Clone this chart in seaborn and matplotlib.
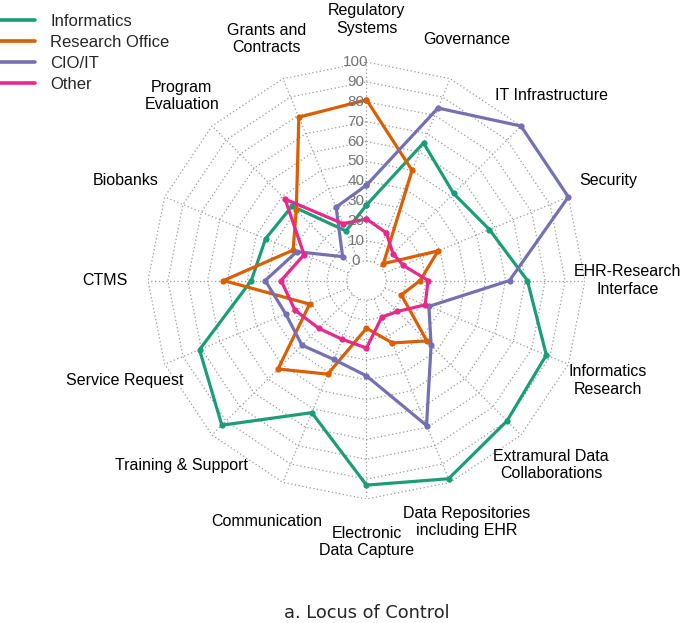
import numpy as np
import pandas as pd
import matplotlib
matplotlib.use("Agg")
import matplotlib.pyplot as plt
from matplotlib.lines import Line2D
import seaborn as sns

# Data (percent, 0-100)
categories = [
    "Regulatory\nSystems", "Governance", "IT Infrastructure", "Security",
    "EHR-Research\nInterface", "Informatics\nResearch",
    "Extramural Data\nCollaborations", "Data Repositories\nincluding EHR",
    "Electronic\nData Capture", "Communication", "Training & Support",
    "Service Request", "CTMS", "Biobanks", "Program\nEvaluation",
    "Grants and\nContracts",
]
groups = ["Informatics", "Research Office", "CIO/IT", "Other"]
informatics = [28, 65, 52, 57, 71, 88, 90, 98, 93, 62, 93, 81, 48, 45, 43, 17]
research_office = [81, 50, 2, 29, 17, 9, 33, 24, 14, 41, 53, 21, 62, 30, 40, 79]
cio_it = [38, 84, 100, 100, 62, 24, 36, 69, 38, 33, 36, 34, 41, 28, 7, 30]
other = [21, 16, 9, 10, 21, 22, 12, 10, 24, 22, 24, 29, 33, 24, 48, 21]
radial_ticks = [0, 10, 20, 30, 40, 50, 60, 70, 80, 90, 100]

HOLE = 10  # value 0 sits this far from the centre (empty middle)

sns.set_theme(style="white")
plt.rcParams["font.family"] = ["Liberation Sans", "DejaVu Sans"]

n = len(categories)
theta = np.linspace(0, 2 * np.pi, n, endpoint=False)  # clockwise from top
theta_closed = np.append(theta, 2 * np.pi)


def to_xy(t, v):
    r = np.asarray(v, dtype=float) + HOLE
    return r * np.sin(t), r * np.cos(t)


# long table, each polygon closed by repeating its first value
rows = []
for g, vals in zip(groups, [informatics, research_office, cio_it, other]):
    vals_closed = list(vals) + [vals[0]]
    for i, (t, v) in enumerate(zip(theta_closed, vals_closed)):
        x, y = to_xy(t, v)
        rows.append({"order": i, "x": float(x), "y": float(y), "group": g})
df = pd.DataFrame(rows)

palette = dict(zip(groups, sns.color_palette("Dark2", 4)))

fig = plt.figure(figsize=(6.88, 6.23), dpi=100)
ax = fig.add_axes([0.2151, 0.199, 0.6352, 0.7014])
lim = 100 + HOLE
ax.set_xlim(-lim, lim)
ax.set_ylim(-lim, lim)
ax.set_aspect("equal")
ax.axis("off")

# polygon grid + spokes
grid_kw = dict(color="#9a9a9a", lw=0.9, ls=(0, (1, 2)), zorder=1)
for lvl in radial_ticks:
    gx, gy = to_xy(theta_closed, [lvl] * (n + 1))
    ax.plot(gx, gy, **grid_kw)
for t in theta:
    sx, sy = to_xy(np.array([t, t]), [0, 100])
    ax.plot(sx, sy, **grid_kw)

sns.lineplot(
    data=df, x="x", y="y", hue="group", hue_order=groups, units="group",
    palette=palette, sort=False, estimator=None, marker="o",
    markersize=4.5, markeredgewidth=0, linewidth=2.3, legend=False,
    ax=ax, zorder=3,
)
ax.set_xlabel("")
ax.set_ylabel("")

# radial tick labels along the top spoke
for v in radial_ticks:
    ax.annotate(str(v), xy=(0, v + HOLE), xytext=(-7.5, 0), textcoords="offset points",
                ha="center", va="center", fontsize=11, color="#757575", zorder=4)

# category labels
for t, lab in zip(theta, categories):
    lx, ly = to_xy(t, 121.5)
    ax.text(lx, ly, lab, ha="center", va="center", fontsize=11.5, color="black")

handles = [Line2D([0], [0], color=palette[g], lw=2.6) for g in groups]
fig.legend(handles, groups, loc="upper left", bbox_to_anchor=(0.0, 0.977),
           frameon=False, fontsize=12, handlelength=2.1, handletextpad=0.9,
           labelspacing=0.35, borderpad=0.0, borderaxespad=0.0)

fig.text(0.5327, 0.001, "a. Locus of Control", ha="center", va="bottom",
         fontsize=12.8, family=["DejaVu Sans"])

fig.savefig("out.png", dpi=100, facecolor="white")
